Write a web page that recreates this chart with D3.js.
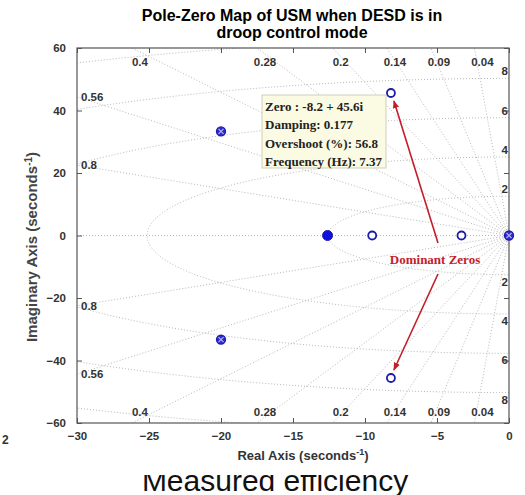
<!doctype html>
<html lang="en">
  <head>
    <meta charset="utf-8">
    <title>pole-zero map</title>
    <script src="https://d3js.org/d3.v7.min.js"></script>
    <style>
      body { margin: 0; background: #fff; }
      svg { display: block; }
      .tick-lab { font-family: Arial, 'Liberation Sans', sans-serif; font-weight: bold; font-size: 11.5px; fill: #333; }
      .grid-lab { font-family: Arial, 'Liberation Sans', sans-serif; font-weight: bold; font-size: 11.5px; fill: #333; }
    </style>
  </head>
  <body>
    <div id="root"></div>
  </body>
  <script>

    //data:
    const xTicks = [-30, -25, -20, -15, -10, -5, 0];
    const yTicks = [-60, -40, -20, 0, 20, 40, 60];
    const dampings = [0.04, 0.09, 0.14, 0.2, 0.28, 0.4, 0.56, 0.8];
    const freqsHz = [2, 4, 6, 8, 10];
    const zeros = [[-8.2, 45.6], [-8.2, -45.6], [-9.5, 0], [-3.3, 0]];
    const crossed = [[-20, 33.3], [-20, -33.3], [0, 0]];
    const filled = [[-12.6, 0]];
    const tipLines = ["Zero : -8.2 + 45.6i", "Damping: 0.177", "Overshoot (%): 56.8", "Frequency (Hz): 7.37"];

    //constants:
    const width = 525, height = 495;
    const pL = 77, pR = 509, pT = 48, pB = 423;
    const blue = "#1c1ca8";
    const red = "#c41e2a";

    const svg = d3.select("#root").append("svg")
      .attr("width", width).attr("height", height);

    const x = d3.scaleLinear().domain([-30, 0]).range([pL, pR]);
    const y = d3.scaleLinear().domain([-60, 60]).range([pB, pT]);

    svg.append("clipPath").attr("id", "plot")
      .append("rect").attr("x", pL).attr("y", pT)
      .attr("width", pR - pL).attr("height", pB - pT);

    //grid:
    const grid = svg.append("g").attr("clip-path", "url(#plot)")
      .attr("fill", "none").attr("stroke", "#b8b8b8")
      .attr("stroke-width", 1).attr("stroke-dasharray", "1,2");

    grid.append("line")
      .attr("x1", x(-30)).attr("x2", x(0)).attr("y1", y(0)).attr("y2", y(0));

    dampings.forEach(function(z) {
      const s = Math.sqrt(1 - z * z);
      [1, -1].forEach(function(sg) {
        grid.append("line")
          .attr("x1", x(0)).attr("y1", y(0))
          .attr("x2", x(-200 * z)).attr("y2", y(sg * 200 * s));
      });
    });

    const arc = d3.line().x(d => x(d[0])).y(d => y(d[1]));
    freqsHz.forEach(function(f) {
      const r = 2 * Math.PI * f;
      const pts = d3.range(90, 270.5, 0.5).map(function(a) {
        const t = a * Math.PI / 180;
        return [r * Math.cos(t), r * Math.sin(t)];
      });
      grid.append("path").attr("d", arc(pts));
    });

    //damping labels
    dampings.forEach(function(z) {
      const slope = Math.sqrt(1 - z * z) / z;
      const xTop = -60 / slope;
      if (xTop >= -30) {
        svg.append("text").attr("class", "grid-lab")
          .attr("x", x(xTop) + 8).attr("y", pT + 18)
          .attr("text-anchor", "middle").text(z);
        svg.append("text").attr("class", "grid-lab")
          .attr("x", x(xTop) + 8).attr("y", pB - 7)
          .attr("text-anchor", "middle").text(z);
      } else {
        const yl = 30 * slope;
        [yl, -yl].forEach(function(v) {
          svg.append("text").attr("class", "grid-lab")
            .attr("x", pL + 4).attr("y", y(v) + 4)
            .text(z);
        });
      }
    });

    //frequency labels
    freqsHz.forEach(function(f) {
      const r = 2 * Math.PI * f;
      if (r > 60) return;
      svg.append("text").attr("class", "grid-lab")
        .attr("x", pR - 1).attr("y", y(r) - 3)
        .attr("text-anchor", "end").text(f);
      svg.append("text").attr("class", "grid-lab")
        .attr("x", pR - 1).attr("y", y(-r) + 11)
        .attr("text-anchor", "end").text(f);
    });

    //axes box and ticks:
    const axColor = "#555";
    svg.append("rect").attr("x", pL).attr("y", pT)
      .attr("width", pR - pL).attr("height", pB - pT)
      .attr("fill", "none").attr("stroke", axColor).attr("stroke-width", 1.2);

    const xb = svg.append("g").attr("transform", `translate(0,${pB})`)
      .call(d3.axisBottom(x).tickValues(xTicks).tickSizeInner(-5).tickSizeOuter(0).tickPadding(9));
    const xt = svg.append("g").attr("transform", `translate(0,${pT})`)
      .call(d3.axisTop(x).tickValues(xTicks).tickSizeInner(-5).tickSizeOuter(0).tickFormat(""));
    const yl = svg.append("g").attr("transform", `translate(${pL},0)`)
      .call(d3.axisLeft(y).tickValues(yTicks).tickSizeInner(-5).tickSizeOuter(0).tickPadding(11));
    const yr = svg.append("g").attr("transform", `translate(${pR},0)`)
      .call(d3.axisRight(y).tickValues(yTicks).tickSizeInner(-5).tickSizeOuter(0).tickFormat(""));
    [xb, xt, yl, yr].forEach(function(g) {
      g.select(".domain").remove();
      g.selectAll(".tick line").attr("stroke", axColor);
      g.selectAll("text").attr("class", "tick-lab").attr("fill", null);
    });

    //markers:
    const marks = svg.append("g");
    marks.selectAll(".zero").data(zeros).enter().append("circle")
      .attr("cx", d => x(d[0])).attr("cy", d => y(d[1])).attr("r", 4)
      .attr("fill", "#fff").attr("stroke", blue).attr("stroke-width", 1.8);

    marks.selectAll(".filled").data(filled).enter().append("circle")
      .attr("cx", d => x(d[0])).attr("cy", d => y(d[1])).attr("r", 5)
      .attr("fill", "#1010e0").attr("stroke", blue).attr("stroke-width", 1);

    const cr = marks.selectAll(".crossed").data(crossed).enter().append("g")
      .attr("transform", d => `translate(${x(d[0])},${y(d[1])})`);
    cr.append("circle").attr("r", 4.5)
      .attr("fill", "#2d2dd0").attr("stroke", blue).attr("stroke-width", 1.3);
    cr.append("path").attr("d", "M-2.5,-2.5L2.5,2.5M-2.5,2.5L2.5,-2.5")
      .attr("stroke", "#b8b8ee").attr("stroke-width", 1.1);

    //data tip:
    const tip = svg.append("g");
    tip.append("rect").attr("x", 262).attr("y", 95).attr("width", 124).attr("height", 73)
      .attr("fill", "#fbfbe4").attr("stroke", "#cfcfb8").attr("stroke-width", 1);
    tip.selectAll("text").data(tipLines).enter().append("text")
      .attr("x", 265).attr("y", (d, i) => 111 + i * 18.3)
      .attr("font-family", "'Liberation Serif', 'Times New Roman', serif")
      .attr("font-weight", "bold").attr("font-size", "13px").attr("fill", "#222")
      .text(d => d);

    //annotation arrows:
    svg.append("defs").append("marker").attr("id", "head")
      .attr("viewBox", "0 0 10 10").attr("refX", 9).attr("refY", 5)
      .attr("markerWidth", 5).attr("markerHeight", 5).attr("orient", "auto")
      .append("path").attr("d", "M0,1L10,5L0,9Z").attr("fill", red);

    const target = zeros.slice(0, 2);
    target.forEach(function(d, i) {
      const sy = i === 0 ? 243 : 274;
      svg.append("line")
        .attr("x1", 438).attr("y1", sy)
        .attr("x2", x(d[0]) + 3).attr("y2", y(d[1]) + (i === 0 ? 8 : -8))
        .attr("stroke", red).attr("stroke-width", 1.6)
        .attr("marker-end", "url(#head)");
    });
    svg.append("text").attr("x", 435).attr("y", 264)
      .attr("text-anchor", "middle")
      .attr("font-family", "'Liberation Serif', 'Times New Roman', serif")
      .attr("font-weight", "bold").attr("font-size", "13px").attr("fill", red)
      .text("Dominant Zeros");

    //titles:
    const sans = "Arial, 'Liberation Sans', sans-serif";
    svg.append("text").attr("x", 292).attr("y", 21).attr("text-anchor", "middle")
      .attr("font-family", sans).attr("font-weight", "bold").attr("font-size", "16px")
      .text("Pole-Zero Map of USM when DESD is in");
    svg.append("text").attr("x", 292).attr("y", 38).attr("text-anchor", "middle")
      .attr("font-family", sans).attr("font-weight", "bold").attr("font-size", "16px")
      .text("droop control mode");

    const xl = svg.append("text").attr("x", 303).attr("y", 460).attr("text-anchor", "middle")
      .attr("font-family", sans).attr("font-weight", "bold").attr("font-size", "13px").attr("fill", "#333");
    xl.append("tspan").text("Real Axis (seconds");
    xl.append("tspan").attr("dy", -5).attr("font-size", "9px").text("-1");
    xl.append("tspan").attr("dy", 5).text(")");

    const ylab = svg.append("text").attr("transform", "translate(37,247) rotate(-90)")
      .attr("text-anchor", "middle")
      .attr("font-family", sans).attr("font-weight", "bold").attr("font-size", "15px").attr("fill", "#444");
    ylab.append("tspan").text("Imaginary Axis (seconds");
    ylab.append("tspan").attr("dy", -5).attr("font-size", "10px").text("-1");
    ylab.append("tspan").attr("dy", 5).text(")");

    //stray caption from the page around the figure
    svg.append("text").attr("x", 2).attr("y", 444)
      .attr("font-family", sans).attr("font-weight", "bold").attr("font-size", "12px").attr("fill", "#333")
      .text("2");
    svg.append("clipPath").attr("id", "cap")
      .append("rect").attr("x", 0).attr("y", 475).attr("width", width).attr("height", 30);
    svg.append("text").attr("x", 275).attr("y", 491).attr("text-anchor", "middle")
      .attr("clip-path", "url(#cap)")
      .attr("font-family", sans).attr("font-size", "30px").attr("fill", "#111")
      .text("Measured efficiency");

  </script>
</html>
